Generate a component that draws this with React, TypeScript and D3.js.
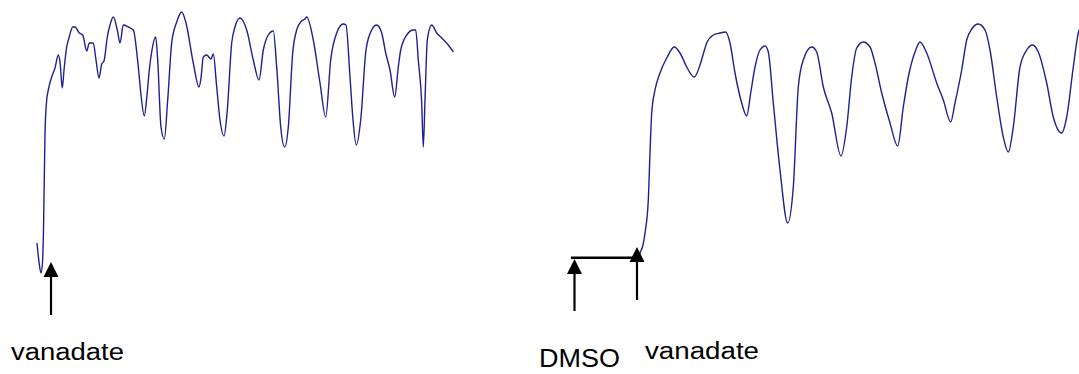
import React from "react";
import * as d3 from "d3";

// Left recording: [time (s), signal (a.u.)]
const leftTrace: [number, number][] = [
  [0,37],[2,18],[4,7],[5.5,18],[6.5,50],[8,147],[9.7,180],[11.3,190],[14.7,203],[18,212],[21.3,225],[23,218],[25.3,192],[27,210],[29.7,233],[32,242],[35.7,253],[38,253],[42.3,247],[45.7,245],[49.7,229],[52.3,237],[56.3,237],[59,220],[62,202],[64.7,216],[67,219],[70.3,243],[73,255],[76.3,263],[80.3,250],[83,237],[86.3,255],[91.3,253],[96.3,250],[101.3,213],[104,185],[107.3,164],[110,185],[112.3,210],[115,230],[118.7,243],[120.7,220],[124,153],[127.3,141],[130.7,180],[134.7,237],[139.7,258],[144.7,268],[149,257],[156.3,217],[162,193],[164,202],[166.3,223],[169.7,225],[174,221],[176.3,226],[179.7,193],[183,160],[187,144],[190.3,170],[194.7,237],[198,253],[203,262],[209.7,250],[216.3,220],[222,200],[226.3,230],[231.3,245],[236.3,249],[239.7,213],[243.7,153],[247.7,133],[251.3,153],[255.7,227],[259.7,250],[264.7,259],[268,261],[269.7,263],[276.3,240],[283,197],[288.7,163],[293.7,220],[299.7,247],[306.3,256],[309,255],[313,203],[316,160],[319.3,135],[323.7,160],[329,230],[334.7,250],[339.7,255],[344.7,247],[348.7,227],[353,210],[357.7,183],[361.3,213],[363.7,230],[369.7,245],[376.3,250],[378.7,250],[381.3,220],[384.7,177],[386.3,133],[388,180],[390.3,240],[394.7,255],[399.7,247],[404.7,242],[411.3,235],[416.3,228]
];

// Right recording: [time (s) relative to vanadate, signal (a.u.)]
const rightTrace: [number, number][] = [
  [1.5,22],[3,27],[6,35],[8,47],[11.3,80],[13,127],[14.7,167],[18,190],[23,207],[29.7,222],[37.3,233],[43,227],[49.7,213],[57.3,203],[63,215],[66,225],[69.7,237],[76.3,245],[83,247],[88.7,248],[93,237],[98,207],[104.7,177],[109.7,164],[113.7,187],[118,213],[123,230],[128,234],[131.3,228],[136.3,177],[143,110],[150.7,57],[156.3,93],[161.3,193],[166.3,220],[174.7,233],[179.7,228],[186.3,193],[194.7,167],[204,124],[209.7,153],[214.7,203],[219.7,232],[226.3,238],[233,233],[238,217],[244.7,187],[253,157],[260.7,134],[266.3,173],[271.3,203],[278,228],[283,238],[289.7,227],[299.7,197],[306.3,180],[313.7,158],[318,177],[324.7,210],[329.7,240],[334.7,251],[341.3,256],[348,250],[353,230],[359.7,183],[366.3,143],[371.3,128],[376.3,153],[383,213],[389.7,230],[395.7,235],[401.3,228],[409.7,197],[416.3,163],[424.7,147],[429.7,163],[436.3,213],[441.3,247],[444,255]
];

const leftEvents = [{ label: "vanadate", t: 14, v: 18 }];
const rightEvents = [
  { label: "DMSO", t: -62.5, v: 21 },
  { label: "vanadate", t: 0, v: 33 },
];
const dmsoBaseline: [number, number] = [-66, 0]; // time span of DMSO baseline
const dmsoBaselineValue = 22.3;

const W = 1079;
const H = 374;
const traceColor = "#1f1f8f";

export default function App() {
  const y = d3.scaleLinear().domain([0, 280]).range([280, 0]);
  const xL = d3.scaleLinear().domain([0, 418]).range([37, 455]);
  const xR = d3.scaleLinear().domain([0, 442]).range([637, 1079]);

  const lineL = d3
    .line<[number, number]>()
    .x((d) => xL(d[0]))
    .y((d) => y(d[1]))
    .curve(d3.curveMonotoneX);
  const lineR = d3
    .line<[number, number]>()
    .x((d) => xR(d[0]))
    .y((d) => y(d[1]))
    .curve(d3.curveMonotoneX);

  const arrow = (x: number, apex: number, bottom: number, key: string) => (
    <g key={key}>
      <line x1={x} x2={x} y1={apex + 10} y2={bottom} stroke="#000" strokeWidth={2.2} />
      <path d={`M${x},${apex} L${x - 7.5},${apex + 15} L${x + 7.5},${apex + 15} Z`} fill="#000" />
    </g>
  );

  const lEv = leftEvents[0];
  const dEv = rightEvents[0];
  const vEv = rightEvents[1];

  return (
    <svg
      width={W}
      height={H}
      style={{ position: "absolute", left: 0, top: 0, background: "#fff" }}
      fontFamily="Liberation Sans, Arial, sans-serif"
    >
      <rect width={W} height={H} fill="#fff" />
      <path d={lineL(leftTrace) || ""} fill="none" stroke={traceColor} strokeWidth={1.4} />
      <path d={lineR(rightTrace) || ""} fill="none" stroke={traceColor} strokeWidth={1.4} />

      {/* DMSO baseline */}
      <line
        x1={xR(dmsoBaseline[0])}
        x2={xR(dmsoBaseline[1])}
        y1={y(dmsoBaselineValue)}
        y2={y(dmsoBaselineValue)}
        stroke="#000"
        strokeWidth={2.4}
      />

      {arrow(xL(lEv.t), y(lEv.v), 315, "la")}
      {arrow(xR(dEv.t), y(dEv.v), 311, "da")}
      {arrow(xR(vEv.t), y(vEv.v), 300, "va")}

      <text x={11} y={359.5} fontSize={23} textLength={113} lengthAdjust="spacingAndGlyphs" fill="#000">
        {lEv.label}
      </text>
      <text x={539} y={366.5} fontSize={25.6} textLength={81} lengthAdjust="spacingAndGlyphs" fill="#000">
        {dEv.label}
      </text>
      <text x={645} y={359.3} fontSize={23} textLength={114} lengthAdjust="spacingAndGlyphs" fill="#000">
        {vEv.label}
      </text>
    </svg>
  );
}
